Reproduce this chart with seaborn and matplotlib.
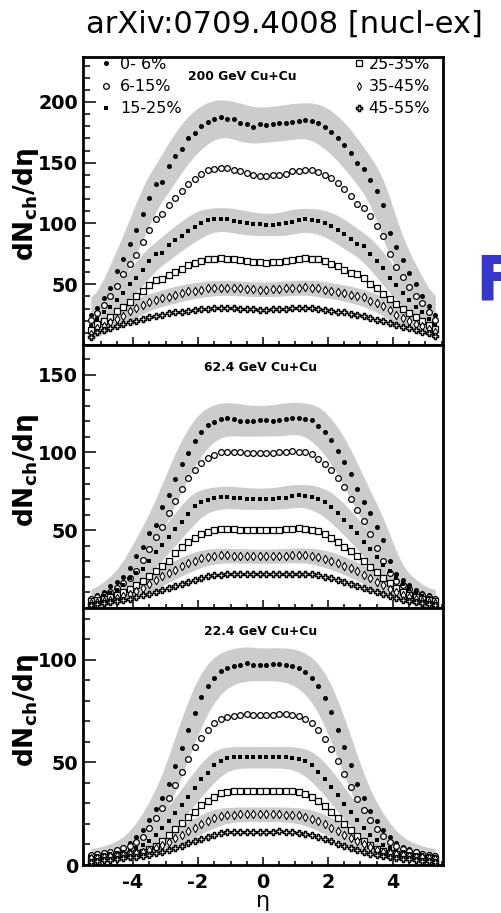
import numpy as np
import pandas as pd
import matplotlib
matplotlib.use("Agg")
import matplotlib.pyplot as plt
import seaborn as sns
from matplotlib.ticker import FixedLocator, MultipleLocator
from matplotlib.lines import Line2D

# ---------------------------------------------------------------- data
eta = np.round(np.linspace(-5.3, 5.3, 54), 1)

centralities = ["0- 6%", "6-15%", "15-25%", "25-35%", "35-45%", "45-55%"]
energies = ["200 GeV Cu+Cu", "62.4 GeV Cu+Cu", "22.4 GeV Cu+Cu"]

# 200 GeV
cu200_c0 = [24.9, 30.5, 38.7, 47.0, 60.5, 70.7, 83.0, 95.0, 107.7, 120.7, 132.3, 134.5, 147.0, 155.2, 161.5, 170.4, 174.8, 180.0, 183.6, 185.8, 187.8, 185.6, 185.8, 183.0, 181.7, 179.8, 181.7,
            181.1, 181.7, 182.5, 183.0, 183.9, 184.7, 185.3, 184.7, 183.0, 179.2, 175.3, 170.1, 164.9, 158.0, 149.7, 145.0, 135.9, 127.0, 115.2, 92.5, 80.7, 69.6, 59.4, 50.3, 40.1, 31.8, 24.9]
cu200_c1 = [20.5, 26.3, 33.2, 40.1, 48.9, 58.3, 66.6, 74.0, 84.5, 94.5, 103.3, 107.5, 115.2, 121.3, 126.8, 132.3, 137.0, 140.8, 143.6, 145.0, 145.5, 145.3, 144.2, 143.1, 141.4, 140.0, 139.2,
            139.2, 139.7, 140.3, 141.1, 142.8, 143.3, 144.4, 143.6, 142.5, 140.0, 137.3, 133.1, 128.2, 122.6, 116.0, 113.0, 106.1, 98.1, 89.8, 75.2, 64.1, 55.8, 48.1, 40.1, 34.3, 26.9, 20.5]
cu200_c2 = [15.8, 21.3, 26.9, 31.0, 37.1, 43.1, 49.8, 55.3, 61.9, 68.8, 74.6, 76.0, 82.1, 86.2, 89.5, 93.7, 97.2, 100.6, 102.8, 103.3, 103.9, 103.3, 102.2, 101.4, 100.6, 99.2, 99.2,
            98.9, 98.9, 99.2, 100.0, 101.4, 102.8, 103.3, 102.8, 101.9, 100.6, 97.8, 95.0, 91.7, 87.6, 83.4, 81.8, 75.2, 69.5, 63.0, 55.0, 49.0, 42.5, 37.0, 31.5, 27.0, 21.8, 16.5]
cu200_c3 = [12.2, 17.2, 20.0, 23.3, 27.7, 31.6, 35.7, 40.1, 44.8, 49.5, 53.1, 54.5, 57.2, 60.0, 62.7, 65.8, 67.4, 69.4, 70.5, 71.0, 71.8, 71.0, 70.5, 69.6, 68.8, 68.3, 68.0,
            67.7, 68.0, 68.3, 69.1, 69.9, 70.7, 71.6, 71.0, 70.5, 69.1, 66.9, 64.7, 61.9, 59.2, 58.1, 55.0, 50.3, 46.5, 42.0, 37.5, 33.5, 30.0, 26.5, 22.8, 19.5, 16.2, 13.0]
cu200_c4 = [8.9, 13.9, 15.8, 18.6, 21.3, 24.1, 27.7, 30.5, 33.2, 35.7, 37.1, 38.4, 39.8, 41.5, 42.9, 44.2, 44.8, 45.6, 46.5, 47.0, 47.3, 47.0, 46.7, 46.5, 46.2, 45.9, 45.6,
            45.6, 45.9, 46.2, 46.5, 46.8, 47.2, 47.5, 47.2, 46.5, 45.4, 44.6, 44.0, 42.9, 41.5, 40.1, 39.3, 36.5, 34.6, 32.4, 28.8, 24.9, 21.9, 19.4, 17.2, 15.5, 12.8, 10.3]
cu200_c5 = [6.7, 10.3, 12.2, 13.6, 15.3, 17.2, 18.6, 20.0, 21.3, 22.7, 23.8, 24.9, 26.0, 26.9, 27.4, 28.2, 28.8, 29.3, 29.9, 30.2, 30.5, 30.5, 30.2, 29.9, 29.6, 29.3, 29.1,
            29.1, 29.3, 29.6, 29.9, 30.2, 30.5, 30.7, 30.5, 29.9, 29.1, 28.2, 27.4, 26.9, 25.8, 24.6, 23.5, 22.2, 20.8, 19.4, 17.8, 16.4, 15.0, 13.9, 12.5, 11.1, 9.5, 7.5]

# 62.4 GeV
cu62_c0 = [6.0, 8.1, 10.2, 13.9, 16.6, 19.9, 25.6, 33.7, 39.5, 48.1, 53.4, 64.7, 72.6, 82.7, 92.3, 99.8, 107.3, 112.8, 117.5, 119.2, 121.4, 122.2, 121.6, 120.1, 120.1, 120.3, 120.5,
           120.5, 120.3, 120.7, 121.4, 122.4, 121.8, 121.6, 120.5, 117.1, 112.8, 107.9, 101.1, 94.0, 85.9, 76.5, 68.4, 61.3, 52.3, 43.8, 30.3, 21.8, 18.1, 14.9, 11.7, 9.6, 8.1, 6.4]
cu62_c1 = [5.6, 7.0, 8.5, 10.5, 13.0, 15.8, 19.5, 24.0, 31.0, 38.0, 45.5, 52.0, 61.0, 68.8, 76.3, 83.3, 88.7, 92.9, 96.1, 98.3, 100.0, 100.4, 100.4, 100.2, 99.8, 99.5, 99.3,
           99.3, 99.6, 100.0, 100.4, 100.8, 100.4, 100.0, 98.7, 95.7, 92.7, 88.7, 83.7, 78.0, 70.1, 63.0, 56.0, 47.5, 38.5, 30.5, 22.5, 17.5, 14.5, 12.0, 9.8, 8.2, 7.0, 5.8]
cu62_c2 = [4.7, 6.0, 7.5, 9.6, 11.7, 14.9, 19.2, 22.4, 25.2, 30.3, 35.7, 40.6, 45.5, 50.6, 55.5, 60.2, 65.8, 68.4, 69.4, 70.5, 71.2, 71.5, 71.0, 70.5, 70.3, 70.1, 70.0,
           70.3, 70.3, 70.5, 71.0, 72.0, 72.6, 72.2, 71.6, 70.1, 67.9, 65.2, 60.9, 56.6, 52.3, 48.1, 42.7, 38.0, 32.7, 27.8, 23.5, 19.2, 15.5, 12.5, 10.0, 8.0, 6.4, 5.0]
cu62_c3 = [4.2, 5.0, 5.8, 6.8, 8.3, 10.0, 12.0, 14.5, 17.5, 20.5, 23.5, 27.0, 30.5, 35.2, 38.9, 42.7, 45.3, 47.6, 49.1, 50.2, 50.6, 50.8, 50.6, 50.4, 50.2, 50.0, 50.0,
           50.0, 50.2, 50.4, 50.6, 51.0, 51.2, 51.0, 50.4, 49.2, 47.5, 45.2, 42.5, 39.5, 36.5, 33.2, 30.0, 26.5, 23.0, 19.5, 16.0, 13.0, 10.5, 8.5, 7.0, 5.8, 5.0, 4.3]
cu62_c4 = [3.3, 3.8, 4.4, 5.2, 6.2, 7.5, 9.2, 11.0, 13.0, 15.4, 18.1, 20.3, 22.4, 24.6, 26.7, 28.8, 30.3, 32.0, 32.9, 33.5, 33.8, 33.8, 33.6, 33.5, 33.4, 33.3, 33.2,
           33.2, 33.3, 33.4, 33.6, 33.8, 34.0, 33.9, 33.5, 32.8, 31.8, 30.5, 29.0, 27.3, 25.5, 23.5, 21.5, 19.3, 17.0, 14.5, 12.0, 10.0, 8.2, 6.8, 5.6, 4.7, 4.0, 3.4]
cu62_c5 = [2.2, 2.6, 3.0, 3.6, 4.4, 5.2, 6.0, 7.0, 8.1, 9.0, 10.2, 11.3, 12.8, 13.9, 15.4, 16.6, 17.9, 19.2, 20.3, 20.9, 21.5, 21.8, 22.0, 21.9, 21.8, 21.7, 21.6,
           21.6, 21.7, 21.8, 21.9, 22.0, 22.1, 22.0, 21.6, 21.0, 20.2, 19.2, 18.1, 16.9, 15.6, 14.3, 13.0, 11.7, 10.3, 9.0, 7.7, 6.5, 5.4, 4.5, 3.7, 3.1, 2.6, 2.2]

# 22.4 GeV
cu22_c0 = [4.9, 5.4, 6.0, 6.8, 7.8, 8.9, 10.6, 13.5, 17.1, 21.9, 27.2, 32.8, 39.3, 48.3, 57.2, 65.8, 74.0, 81.6, 87.0, 91.1, 94.3, 95.9, 97.1, 97.6, 98.4, 97.6, 97.6,
           97.6, 97.8, 98.0, 97.6, 97.0, 95.8, 94.0, 91.0, 87.0, 81.5, 74.5, 66.0, 57.5, 48.5, 39.5, 32.5, 26.5, 21.5, 17.0, 13.5, 10.8, 9.0, 7.8, 6.8, 6.0, 5.4, 4.9]
cu22_c1 = [4.7, 5.2, 5.7, 6.3, 7.2, 8.1, 9.4, 11.4, 13.8, 17.9, 22.8, 27.6, 32.5, 39.0, 45.5, 51.7, 57.7, 62.0, 66.0, 69.0, 71.0, 72.2, 72.8, 73.2, 73.5, 73.3, 73.2,
           73.2, 73.3, 73.5, 73.6, 73.2, 72.5, 71.2, 69.0, 65.8, 61.5, 56.5, 50.5, 44.5, 38.0, 32.0, 27.0, 22.0, 17.5, 14.0, 11.2, 9.3, 8.0, 7.0, 6.2, 5.6, 5.1, 4.6]
cu22_c2 = [4.1, 4.6, 4.9, 5.2, 5.7, 6.2, 7.0, 8.1, 9.8, 11.9, 14.6, 17.9, 21.6, 25.2, 29.3, 33.3, 37.4, 42.0, 44.7, 48.8, 50.9, 52.0, 52.5, 52.5, 52.6, 52.4, 52.5,
           52.5, 52.4, 52.6, 52.5, 52.3, 51.8, 50.6, 48.5, 45.5, 42.0, 38.0, 34.0, 29.8, 25.8, 22.0, 18.2, 14.8, 12.0, 9.8, 8.2, 7.0, 6.2, 5.6, 5.1, 4.7, 4.4, 4.0]
cu22_c3 = [3.0, 3.4, 3.7, 4.1, 4.5, 5.0, 5.6, 6.0, 6.5, 7.8, 9.4, 11.9, 14.6, 17.6, 20.3, 23.6, 26.0, 29.0, 31.4, 33.3, 35.0, 35.8, 36.1, 36.2, 36.0, 36.1, 36.0,
           36.0, 36.1, 36.2, 36.1, 35.9, 35.5, 34.6, 33.2, 31.2, 28.8, 26.0, 23.0, 20.0, 17.0, 14.3, 11.8, 9.6, 7.9, 6.6, 5.8, 5.2, 4.7, 4.3, 3.9, 3.5, 3.2, 2.9]
cu22_c4 = [3.3, 3.6, 3.9, 4.2, 4.6, 4.9, 5.4, 5.9, 6.5, 7.3, 8.5, 9.8, 11.4, 13.0, 14.6, 16.6, 18.2, 19.8, 21.6, 22.8, 24.0, 24.4, 24.6, 24.7, 24.8, 24.7, 24.7,
           24.7, 24.8, 24.7, 24.6, 24.5, 24.2, 23.6, 22.6, 21.3, 19.8, 18.2, 16.5, 14.8, 13.1, 11.5, 10.0, 8.6, 7.4, 6.5, 5.8, 5.2, 4.7, 4.3, 4.0, 3.7, 3.4, 3.1]
cu22_c5 = [1.6, 1.9, 2.3, 2.6, 2.9, 3.2, 3.7, 4.1, 4.4, 4.9, 5.7, 6.5, 7.3, 8.5, 9.4, 10.6, 11.7, 12.7, 13.8, 14.6, 15.4, 15.9, 16.2, 16.3, 16.3, 16.2, 16.3,
           16.3, 16.3, 16.4, 16.2, 16.0, 15.7, 15.2, 14.5, 13.6, 12.6, 11.5, 10.4, 9.3, 8.2, 7.2, 6.3, 5.5, 4.8, 4.3, 3.8, 3.4, 3.0, 2.7, 2.4, 2.1, 1.8, 1.6]

series = {
    energies[0]: [cu200_c0, cu200_c1, cu200_c2, cu200_c3, cu200_c4, cu200_c5],
    energies[1]: [cu62_c0, cu62_c1, cu62_c2, cu62_c3, cu62_c4, cu62_c5],
    energies[2]: [cu22_c0, cu22_c1, cu22_c2, cu22_c3, cu22_c4, cu22_c5],
}

# long-form table
rows = []
for en, lists in series.items():
    for cen, vals in zip(centralities, lists):
        for e, v in zip(eta, vals):
            rows.append((en, cen, e, v))
df = pd.DataFrame(rows, columns=["energy", "centrality", "eta", "dndeta"])

# ---------------------------------------------------------------- style
sns.set_theme(style="ticks")
plt.rcParams["font.family"] = ["DejaVu Sans"]
plt.rcParams["axes.unicode_minus"] = False
plt.rcParams["mathtext.fontset"] = "dejavusans"
plt.rcParams["mathtext.default"] = "regular"
for key in ("text.color", "axes.labelcolor", "xtick.color", "ytick.color",
            "axes.edgecolor"):
    plt.rcParams[key] = "black"

marker_style = {
    "0- 6%":  dict(marker="o", s=13, face="black", lw=0.0),
    "6-15%":  dict(marker="o", s=17, face="white", lw=0.9),
    "15-25%": dict(marker="s", s=11, face="black", lw=0.0),
    "25-35%": dict(marker="s", s=16, face="white", lw=0.9),
    "35-45%": dict(marker="d", s=18, face="white", lw=0.75),
    "45-55%": dict(marker="P", s=19, face="white", lw=1.05),
}

band_series = ["0- 6%", "15-25%", "35-45%"]
band_params = {  # (fractional systematic, absolute floor)
    energies[0]: (0.06, 3.0),
    energies[1]: (0.06, 2.5),
    energies[2]: (0.06, 2.0),
}
ylims = {energies[0]: (0, 237), energies[1]: (0, 169), energies[2]: (0, 125.2)}
yticks = {energies[0]: [50, 100, 150, 200], energies[1]: [50, 100, 150], energies[2]: [0, 50, 100]}
title_pos = {energies[0]: (0.442, 0.931), energies[1]: (0.492, 0.913), energies[2]: (0.492, 0.907)}
ylabel_y = {energies[0]: 0.49, energies[1]: 0.525, energies[2]: 0.603}


def sys_band(v, frac, floor):
    v = np.asarray(v, float)
    p = np.pad(v, 1, mode="edge")
    hi = np.maximum(np.maximum(p[:-2], p[1:-1]), p[2:]) * (1 + frac) + floor
    lo = np.minimum(np.minimum(p[:-2], p[1:-1]), p[2:]) * (1 - frac) - floor
    k = np.array([0.25, 0.5, 0.25])
    for _ in range(2):
        hi = np.convolve(np.pad(hi, 1, mode="edge"), k, mode="valid")
        lo = np.convolve(np.pad(lo, 1, mode="edge"), k, mode="valid")
    return lo, hi


fig = plt.figure(figsize=(5.01, 9.13), dpi=100)
L, W = 83 / 501, 360 / 501
boxes = [(57, 345), (345, 608), (608, 865)]
axes = []
for (top, bot) in boxes:
    axes.append(fig.add_axes([L, (913 - bot) / 913, W, (bot - top) / 913]))

for ax, en in zip(axes, energies):
    sub = df[df["energy"] == en]
    frac, floor = band_params[en]
    for cen in band_series:
        s = sub[sub["centrality"] == cen]
        lo, hi = sys_band(s["dndeta"].values, frac, floor)
        ax.fill_between(s["eta"].values, lo, hi, color="#cccccc", lw=0, zorder=1)
    for cen in centralities:
        st = marker_style[cen]
        sns.scatterplot(data=sub[sub["centrality"] == cen], x="eta", y="dndeta",
                        marker=st["marker"], s=st["s"], color=st["face"],
                        edgecolor="black", linewidth=st["lw"], ax=ax,
                        legend=False, zorder=3)

    ax.set_xlim(-5.54, 5.54)
    ax.set_ylim(*ylims[en])
    ax.xaxis.set_major_locator(FixedLocator([-4, -2, 0, 2, 4]))
    ax.xaxis.set_minor_locator(MultipleLocator(0.5))
    ax.yaxis.set_major_locator(FixedLocator(yticks[en]))
    ax.yaxis.set_minor_locator(MultipleLocator(10))
    ax.tick_params(axis="both", which="both", direction="in", top=False, right=False,
                   width=1.1, color="black", labelcolor="black")
    ax.tick_params(axis="y", which="major", length=9.4, pad=3.5, labelsize=13.8)
    ax.tick_params(axis="y", which="minor", length=5.0)
    ax.tick_params(axis="x", which="major", length=5.8, pad=5.5, labelsize=13.8)
    ax.tick_params(axis="x", which="minor", length=2.9)
    for lab in ax.get_yticklabels() + ax.get_xticklabels():
        lab.set_fontweight("bold")
    for sp in ax.spines.values():
        sp.set_linewidth(2.0)
        sp.set_color("black")
    ax.set_xlabel("")
    ax.set_ylabel(r"dN$_{\mathbf{ch}}$/d$\eta$", fontsize=19, fontweight="bold",
                  color="black")
    ax.yaxis.set_label_coords(-0.117, ylabel_y[en])
    tx, ty = title_pos[en]
    ax.text(tx, ty, en, transform=ax.transAxes, ha="center", va="center",
            fontsize=8.9, fontweight="bold", color="black")
    if en != energies[-1]:
        ax.tick_params(axis="x", labelbottom=False)

# legend on the top panel, split into two columns
def handle(cen):
    st = marker_style[cen]
    return Line2D([], [], ls="none", marker=st["marker"], markersize=np.sqrt(st["s"]),
                  markerfacecolor=st["face"], markeredgecolor="black",
                  markeredgewidth=st["lw"])

top_ax = axes[0]
leg1 = top_ax.legend([handle(c) for c in centralities[:3]], centralities[:3],
                     loc="upper left", bbox_to_anchor=(0.045, 1.0), frameon=False,
                     fontsize=11.5, handlelength=0.8, handletextpad=0.5,
                     labelspacing=0.45, borderpad=0.0, borderaxespad=0.0,
                     labelcolor="black")
top_ax.add_artist(leg1)
top_ax.legend([handle(c) for c in centralities[3:]], centralities[3:],
              loc="upper right", bbox_to_anchor=(0.964, 1.0), frameon=False,
              fontsize=11.5, handlelength=0.6, handletextpad=0.3,
              labelspacing=0.45, borderpad=0.0, borderaxespad=0.0,
              labelcolor="black")

fig.text(263 / 501, 1 - 901 / 913, "\u03b7", ha="center", va="center", fontsize=16,
         color="black")
fig.text(284.5 / 501, 1 - 33 / 913, "arXiv:0709.4008 [nucl-ex]", ha="center",
         va="baseline", fontsize=22, color="black")
fig.text(475 / 501, 1 - 300 / 913, "F", ha="left", va="baseline", fontsize=45,
         fontweight="bold", color="#3737cc")

fig.savefig("out.png", dpi=100)
